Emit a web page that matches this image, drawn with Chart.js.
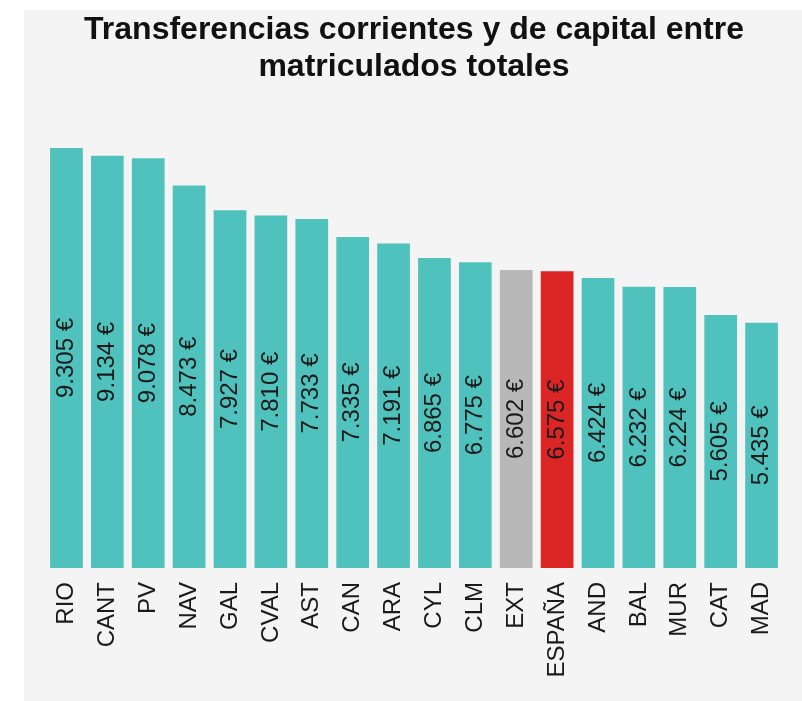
<!DOCTYPE html>
<html>
<head>
<meta charset="utf-8">
<script src="https://cdn.jsdelivr.net/npm/chart.js@4.4.0/dist/chart.umd.min.js"></script>
<style>
  body { margin: 0; background: #fff; }
  #wrap { position: absolute; left: 24px; top: 10px; width: 778px; height: 691px; background: #f4f4f4; }
</style>
</head>
<body>
<div id="wrap"><canvas id="myChart"></canvas></div>
<script>
const regiones = ['RIO', 'CANT', 'PV', 'NAV', 'GAL', 'CVAL', 'AST', 'CAN', 'ARA', 'CYL', 'CLM', 'EXT', 'ESPAÑA', 'AND', 'BAL', 'MUR', 'CAT', 'MAD'];
const importes = [9305, 9134, 9078, 8473, 7927, 7810, 7733, 7335, 7191, 6865, 6775, 6602, 6575, 6424, 6232, 6224, 5605, 5435];

const teal = '#4fc2bd';
const colores = regiones.map(r => r === 'ESPAÑA' ? '#dc2626' : (r === 'EXT' ? '#b8b8b8' : teal));

const fmt = v => v.toLocaleString('de-DE') + ' €';

// etiqueta vertical centrada dentro de cada barra
const etiquetas = {
  id: 'etiquetas',
  afterDatasetsDraw(chart) {
    const ctx = chart.ctx;
    const meta = chart.getDatasetMeta(0);
    ctx.save();
    ctx.font = '24px Arial, "Liberation Sans"';
    ctx.fillStyle = '#1a1a1a';
    ctx.textAlign = 'center';
    ctx.textBaseline = 'middle';
    meta.data.forEach((bar, i) => {
      const yMid = (bar.y + bar.base) / 2;
      ctx.save();
      ctx.translate(bar.x, yMid);
      ctx.rotate(-Math.PI / 2);
      ctx.fillText(fmt(importes[i]), 0, 0);
      ctx.restore();
    });
    ctx.restore();
  }
};

const ctx = document.getElementById('myChart');

new Chart(ctx, {
  type: 'bar',
  data: {
    labels: regiones,
    datasets: [{
      data: importes,
      backgroundColor: colores,
      categoryPercentage: 1,
      barPercentage: 0.8
    }]
  },
  options: {
    responsive: true,
    maintainAspectRatio: false,
    animation: false,
    layout: { padding: { left: 22, right: 20, top: 0, bottom: 0 } },
    plugins: {
      legend: { display: false },
      tooltip: { enabled: false },
      title: {
        display: true,
        text: ['Transferencias corrientes y de capital entre', 'matriculados totales'],
        color: '#111',
        font: { family: 'Arial, "Liberation Sans"', size: 32, weight: 'bold', lineHeight: 1.15 },
        padding: { top: 2, bottom: 31 }
      }
    },
    scales: {
      x: {
        grid: { display: false },
        border: { display: false },
        ticks: {
          color: '#1a1a1a',
          font: { family: 'Arial, "Liberation Sans"', size: 24 },
          minRotation: 90,
          maxRotation: 90,
          padding: 6
        },
        afterFit(axis) { axis.height = 133; }
      },
      y: {
        display: false,
        beginAtZero: true,
        max: 10000
      }
    }
  },
  plugins: [etiquetas]
});
</script>
</body>
</html>
